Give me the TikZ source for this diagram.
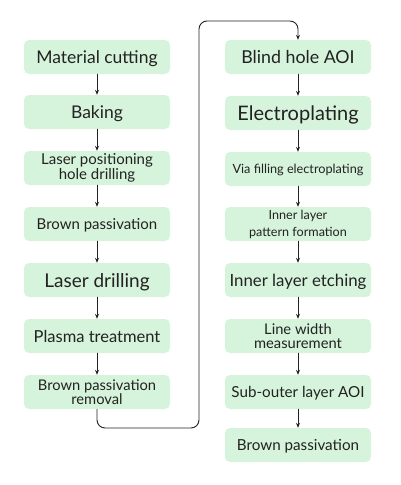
\documentclass[tikz,border=0pt]{standalone}
\usepackage{fontspec}
\setmainfont{Lato}
\usetikzlibrary{arrows.meta}
\definecolor{boxgreen}{RGB}{214,243,219}
\definecolor{inkgray}{RGB}{34,34,34}
\newcommand{\fsz}[2][1.1]{\fontsize{#2}{\fpeval{#1*#2}}\selectfont}
\tikzset{
  stepbox/.style={fill=boxgreen, rounded corners=5pt, minimum width=146pt,
    minimum height=34pt, align=center, text=inkgray, inner sep=1pt},
  onebox/.style={stepbox, text depth=0pt},
  flow/.style={draw=inkgray, line width=0.9pt, -{Stealth[length=5pt,width=4pt]}},
}
\begin{document}
\begin{tikzpicture}[x=1pt,y=-1pt, line join=round, line cap=round]
  \def\xl{97} \def\xr{298} % column centres
  \useasboundingbox (0,0) rectangle (401,485);
  % left column
  \node[onebox, font={\fsz{17.5}}]        (cut)  at (\xl,57)  {Material cutting};
  \node[onebox, font={\fsz{17.5}}]        (bake) at (\xl,112) {Baking};
  \node[stepbox, font={\fsz[1.0]{15}}]    (pos)  at (\xl,168) {Laser positioning\\hole drilling};
  \node[onebox, font={\fsz{15}}]          (brn)  at (\xl,224) {Brown passivation};
  \node[onebox, font={\fsz{19}}]          (ldr)  at (\xl,280) {Laser drilling};
  \node[onebox, font={\fsz{16.5}}]        (plas) at (\xl,336) {Plasma treatment};
  \node[stepbox, font={\fsz[0.95]{14.7}}] (rem)  at (\xl,392) {Brown passivation\\removal};
  % right column
  \node[onebox, font={\fsz{17.8}}]        (aoi)  at (\xr,57)  {Blind hole AOI};
  \node[onebox, font={\fsz{20}}]          (elec) at (\xr,113) {Electroplating};
  \node[onebox, font={\fsz{12.7}}]        (via)  at (\xr,169) {Via filling electroplating};
  \node[stepbox, font={\fsz[1.35]{12.6}}] (pat)  at (\xr,224) {Inner layer\\pattern formation};
  \node[onebox, font={\fsz{16.8}}]        (etch) at (\xr,280) {Inner layer etching};
  \node[stepbox, font={\fsz[0.92]{14.7}}] (lw)   at (\xr,336) {Line width\\measurement};
  \node[onebox, font={\fsz{15.2}}]        (sub)  at (\xr,392) {Sub-outer layer AOI};
  \node[onebox, font={\fsz{15.2}}]        (brn2) at (\xr,445) {Brown passivation};
  % arrows
  \foreach \a/\b in {cut/bake,bake/pos,pos/brn,brn/ldr,ldr/plas,plas/rem,
                     aoi/elec,elec/via,via/pat,pat/etch,etch/lw,lw/sub,sub/brn2}
    \draw[flow] (\a.south) -- (\b.north);
  \draw[flow, rounded corners=8pt] (rem.south) |- (199,428) |- (\xr,21) -- (aoi.north);
\end{tikzpicture}
\end{document}
